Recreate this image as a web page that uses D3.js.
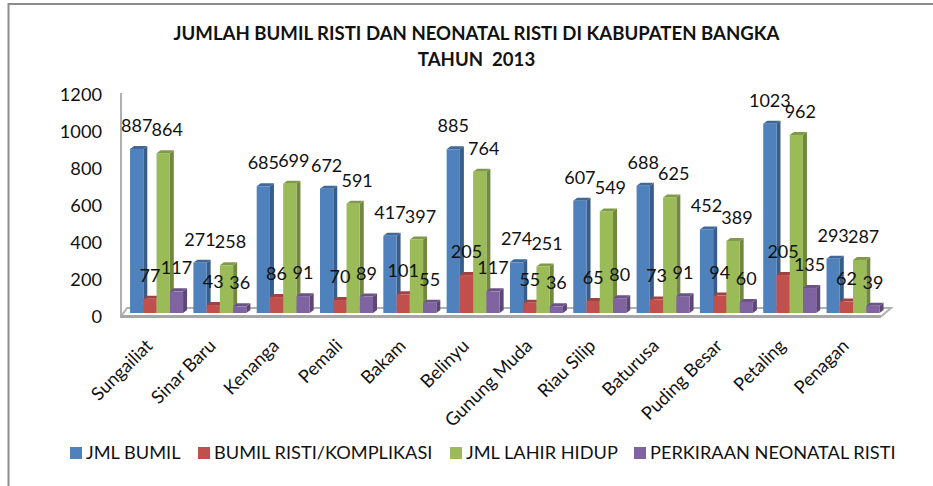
<!DOCTYPE html>
<html><head><meta charset="utf-8"><script src="https://cdn.jsdelivr.net/npm/d3@7"></script>
<style>html,body{margin:0;padding:0;background:#fff}svg{display:block}text{font-family:"Lato","Noto Sans",sans-serif}</style></head><body><svg id="c" width="933" height="486"></svg>
<script>
const categories=["Sungailiat","Sinar Baru","Kenanga","Pemali","Bakam","Belinyu","Gunung Muda","Riau Silip","Baturusa","Puding Besar","Petaling","Penagan"];
const jmlBumil=[887,271,685,672,417,885,274,607,688,452,1023,293];
const bumilRisti=[77,43,86,70,101,205,55,65,73,94,205,62];
const jmlLahir=[864,258,699,591,397,764,251,549,625,389,962,287];
const neonatal=[117,36,91,89,55,117,36,80,91,60,135,39];
const seriesNames=["JML BUMIL","BUMIL RISTI/KOMPLIKASI","JML LAHIR HIDUP","PERKIRAAN NEONATAL RISTI"];
const colors=["#4f81bd","#c0504d","#9bbb59","#8064a2"];
const sides=["#385d8a","#8c3836","#71893f","#5c4776"];
const tops=["#3f6797","#a04340","#7f9a48","#6a5387"];
const ticks=[0,200,400,600,800,1000,1200];
const titleLines=["JUMLAH BUMIL RISTI DAN NEONATAL RISTI DI KABUPATEN BANGKA","TAHUN  2013"];
const series=[jmlBumil,bumilRisti,jmlLahir,neonatal];
const svg=d3.select("#c");
svg.append("rect").attr("x",8.5).attr("y",4).attr("width",940).attr("height",500).attr("fill","none").attr("stroke","#8c8c8c").attr("stroke-width",2);
const y=d3.scaleLinear().domain([0,1200]).range([313,91]);
const x0=d3.scaleBand().domain(categories).range([125,884.6]).paddingInner(0.163).paddingOuter(0.08);
const x1=d3.scaleBand().domain(d3.range(4)).range([0,x0.bandwidth()]);
const d=4;
svg.append("path").attr("d","M121,93V316.5M121,316.5L127,308H891L881,316.5").attr("fill","none").attr("stroke","#b0b0b0").attr("stroke-width",2);
svg.append("path").attr("d","M120,316.5H881").attr("stroke","#a6a6a6").attr("stroke-width",3);
titleLines.forEach((t,i)=>svg.append("text").attr("x",476.5).attr("y",39.5+i*26).attr("text-anchor","middle").attr("font-size",18.6).attr("font-weight",700).attr("fill","#111").style("white-space","pre").text(t));
svg.selectAll(".yt").data(ticks).join("text").attr("x",102).attr("y",v=>y(v)+9.5).attr("text-anchor","end").attr("font-size",18.2).attr("fill","#111").text(v=>v);
categories.forEach((c,i)=>{
 series.forEach((s,j)=>{
  const v=s[i],X=x0(c)+x1(j),w=x1.bandwidth(),Y=y(v),B=y(0);
  const g=svg.append("g");
  g.append("path").attr("d",`M${X+w},${Y}l${d},-3V${B-3}l-${d},3Z`).attr("fill",sides[j]);
  g.append("path").attr("d",`M${X},${Y}l${d},-3h${w}l-${d},3Z`).attr("fill",tops[j]);
  g.append("rect").attr("x",X).attr("y",Y).attr("width",w).attr("height",B-Y).attr("fill",colors[j]);
 });
});
const labelShift=[0,0,4,0];
categories.forEach((c,i)=>{
 series.forEach((s,j)=>{
  const v=s[i],X=x0(c)+x1(j)+x1.bandwidth()/2+labelShift[j];
  svg.append("text").attr("x",X).attr("y",y(v)-17).attr("text-anchor","middle").attr("font-size",18).attr("fill","#111").text(v);
 });
 svg.append("text").attr("transform",`translate(${x0(c)+x0.bandwidth()/2-3},347) rotate(-45)`).attr("text-anchor","end").attr("font-size",18.3).attr("fill","#111").text(c);
});
const lx=[70,198,450,634];
seriesNames.forEach((n,i)=>{
 svg.append("rect").attr("x",lx[i]).attr("y",447).attr("width",12).attr("height",12).attr("fill",colors[i]);
 svg.append("text").attr("x",lx[i]+16).attr("y",459).attr("font-size",18.2).attr("fill","#111").text(n);
});
</script></body></html>
